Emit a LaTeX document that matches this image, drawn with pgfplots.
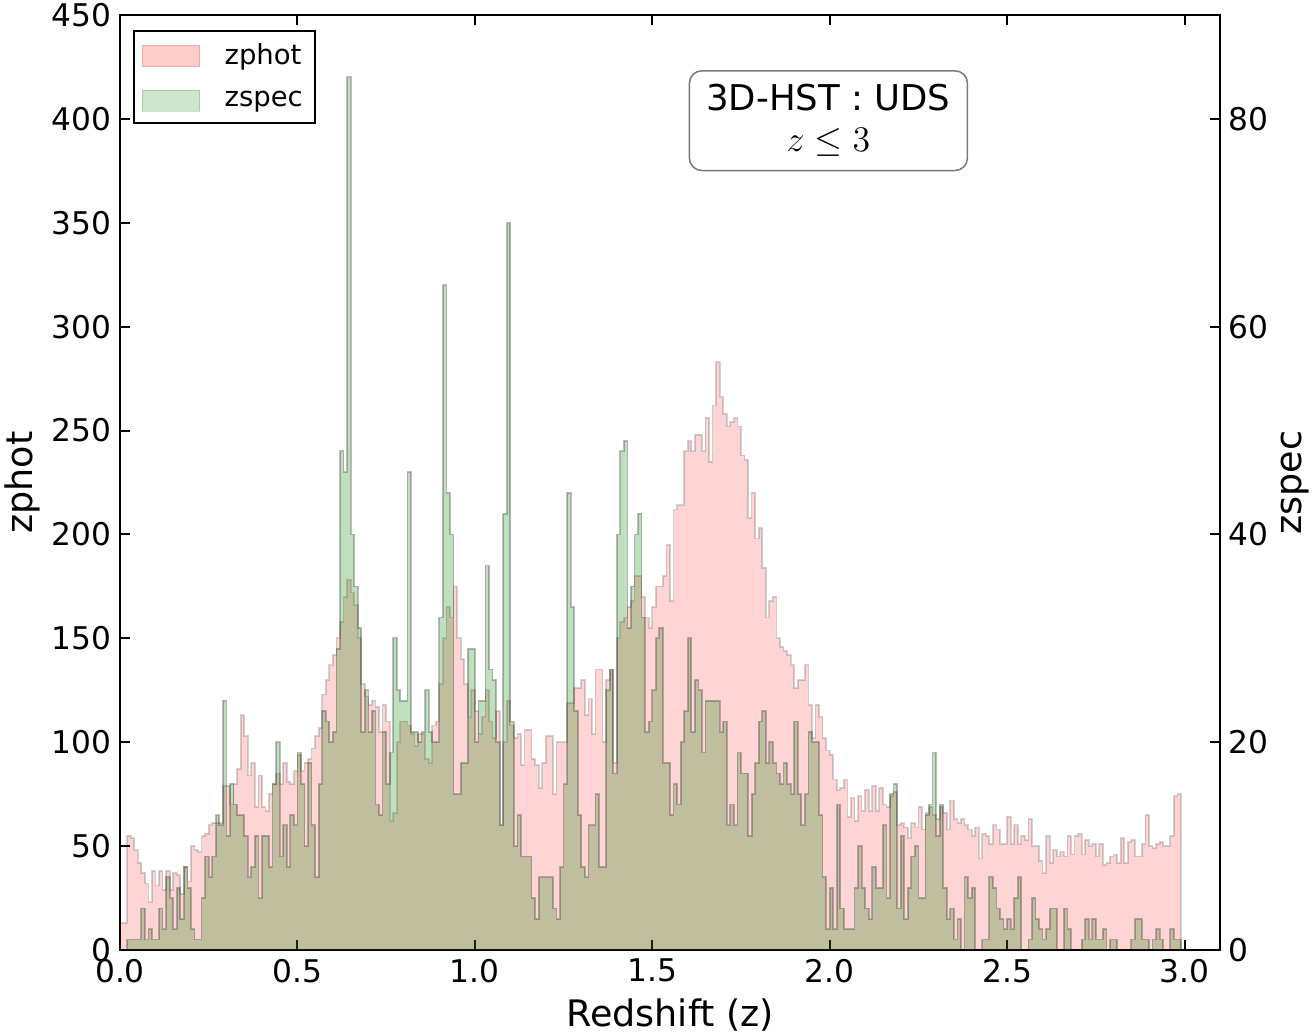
\documentclass[border=0pt]{standalone}
\usepackage{fontspec}
\setmainfont{DejaVu Sans}
\usepackage{pgfplots}
\usepackage{pgfplotstable}
\pgfplotsset{compat=1.18}

% photometric redshift counts, bins of width 0.01 starting at z=0 (last value repeated to close the step)
\pgfplotstableread[row sep=\\]{
c\\
13\\ 13\\ 55\\ 54\\ 48\\ 42\\ 37\\ 32\\ 23\\ 38\\
31\\ 38\\ 29\\ 38\\ 29\\ 37\\ 36\\ 27\\ 40\\ 33\\
50\\ 48\\ 47\\ 55\\ 56\\ 60\\ 61\\ 61\\ 61\\ 79\\
79\\ 70\\ 80\\ 87\\ 113\\ 103\\ 84\\ 90\\ 69\\ 84\\
69\\ 67\\ 75\\ 80\\ 85\\ 80\\ 90\\ 81\\ 80\\ 86\\
94\\ 86\\ 90\\ 92\\ 97\\ 103\\ 107\\ 123\\ 130\\ 137\\
142\\ 150\\ 158\\ 170\\ 178\\ 172\\ 166\\ 150\\ 128\\ 122\\
118\\ 120\\ 117\\ 105\\ 118\\ 110\\ 62\\ 66\\ 100\\ 110\\
110\\ 108\\ 104\\ 98\\ 104\\ 104\\ 92\\ 90\\ 108\\ 110\\
128\\ 150\\ 165\\ 160\\ 175\\ 150\\ 140\\ 128\\ 112\\ 125\\
115\\ 104\\ 112\\ 125\\ 110\\ 102\\ 115\\ 60\\ 100\\ 120\\
108\\ 102\\ 104\\ 89\\ 106\\ 106\\ 92\\ 89\\ 78\\ 90\\
103\\ 103\\ 75\\ 100\\ 100\\ 100\\ 119\\ 119\\ 126\\ 126\\
130\\ 113\\ 121\\ 104\\ 135\\ 135\\ 100\\ 130\\ 135\\ 90\\
150\\ 158\\ 160\\ 165\\ 168\\ 180\\ 180\\ 170\\ 160\\ 155\\
165\\ 175\\ 175\\ 180\\ 195\\ 168\\ 212\\ 214\\ 214\\ 240\\
245\\ 240\\ 248\\ 248\\ 240\\ 256\\ 235\\ 262\\ 283\\ 266\\
258\\ 252\\ 254\\ 256\\ 252\\ 238\\ 236\\ 208\\ 220\\ 198\\
203\\ 184\\ 160\\ 168\\ 170\\ 150\\ 146\\ 144\\ 142\\ 137\\
126\\ 130\\ 130\\ 137\\ 118\\ 102\\ 118\\ 112\\ 102\\ 96\\
94\\ 82\\ 77\\ 78\\ 82\\ 64\\ 73\\ 62\\ 74\\ 67\\
77\\ 67\\ 79\\ 67\\ 78\\ 70\\ 69\\ 74\\ 76\\ 60\\
61\\ 59\\ 54\\ 61\\ 59\\ 69\\ 58\\ 66\\ 69\\ 65\\
63\\ 69\\ 66\\ 58\\ 72\\ 63\\ 61\\ 63\\ 60\\ 58\\
55\\ 59\\ 44\\ 56\\ 55\\ 51\\ 60\\ 58\\ 51\\ 51\\
64\\ 51\\ 60\\ 51\\ 55\\ 53\\ 63\\ 50\\ 50\\ 43\\
37\\ 55\\ 42\\ 48\\ 45\\ 47\\ 45\\ 55\\ 46\\ 55\\
56\\ 46\\ 53\\ 50\\ 51\\ 45\\ 51\\ 41\\ 42\\ 45\\
46\\ 42\\ 54\\ 42\\ 52\\ 53\\ 45\\ 45\\ 51\\ 65\\
50\\ 49\\ 51\\ 52\\ 50\\ 50\\ 55\\ 74\\ 75\\ 75\\
}\zphot

% spectroscopic redshift counts, same binning
\pgfplotstableread[row sep=\\]{
c\\
0\\ 0\\ 1\\ 1\\ 1\\ 1\\ 4\\ 1\\ 2\\ 1\\
1\\ 4\\ 2\\ 7\\ 5\\ 2\\ 6\\ 3\\ 8\\ 6\\
2\\ 1\\ 1\\ 5\\ 9\\ 7\\ 9\\ 13\\ 12\\ 24\\
11\\ 16\\ 14\\ 13\\ 13\\ 11\\ 7\\ 8\\ 11\\ 5\\
11\\ 11\\ 8\\ 16\\ 20\\ 9\\ 12\\ 8\\ 13\\ 12\\
19\\ 16\\ 10\\ 18\\ 12\\ 7\\ 16\\ 23\\ 22\\ 20\\
21\\ 29\\ 48\\ 46\\ 84\\ 40\\ 35\\ 31\\ 21\\ 25\\
21\\ 23\\ 14\\ 13\\ 21\\ 16\\ 19\\ 30\\ 25\\ 24\\
24\\ 46\\ 21\\ 21\\ 20\\ 21\\ 25\\ 21\\ 20\\ 20\\
32\\ 64\\ 44\\ 40\\ 15\\ 15\\ 18\\ 18\\ 29\\ 29\\
20\\ 24\\ 24\\ 37\\ 27\\ 26\\ 20\\ 12\\ 42\\ 70\\
22\\ 10\\ 13\\ 9\\ 9\\ 9\\ 5\\ 3\\ 7\\ 7\\
7\\ 7\\ 4\\ 3\\ 8\\ 16\\ 44\\ 33\\ 23\\ 13\\
8\\ 7\\ 12\\ 12\\ 15\\ 8\\ 8\\ 25\\ 27\\ 17\\
40\\ 48\\ 49\\ 31\\ 35\\ 40\\ 42\\ 32\\ 21\\ 22\\
25\\ 30\\ 31\\ 18\\ 18\\ 13\\ 16\\ 14\\ 20\\ 23\\
30\\ 21\\ 26\\ 25\\ 19\\ 24\\ 24\\ 24\\ 24\\ 21\\
22\\ 12\\ 14\\ 12\\ 19\\ 17\\ 17\\ 11\\ 15\\ 18\\
22\\ 23\\ 18\\ 20\\ 18\\ 17\\ 16\\ 18\\ 16\\ 15\\
22\\ 15\\ 12\\ 15\\ 21\\ 20\\ 20\\ 13\\ 7\\ 2\\
6\\ 2\\ 14\\ 4\\ 2\\ 2\\ 2\\ 6\\ 10\\ 6\\
4\\ 3\\ 8\\ 6\\ 6\\ 12\\ 5\\ 15\\ 16\\ 4\\
11\\ 3\\ 6\\ 9\\ 10\\ 5\\ 5\\ 13\\ 14\\ 19\\
11\\ 14\\ 6\\ 3\\ 4\\ 1\\ 3\\ 0\\ 7\\ 5\\
6\\ 0\\ 0\\ 1\\ 1\\ 7\\ 6\\ 4\\ 3\\ 2\\
3\\ 2\\ 5\\ 7\\ 0\\ 0\\ 1\\ 5\\ 3\\ 2\\
1\\ 2\\ 4\\ 4\\ 0\\ 0\\ 4\\ 2\\ 0\\ 0\\
0\\ 1\\ 3\\ 1\\ 3\\ 1\\ 1\\ 2\\ 0\\ 1\\
1\\ 0\\ 0\\ 0\\ 0\\ 1\\ 3\\ 3\\ 1\\ 1\\
0\\ 1\\ 2\\ 1\\ 0\\ 0\\ 2\\ 1\\ 1\\ 1\\
}\zspec

\definecolor{mplgreen}{RGB}{0,128,0}
\definecolor{boxedge}{RGB}{120,120,120}

\pgfplotsset{
  histaxis/.style={
    scale only axis, width=440pt, height=374pt,
    xmin=0, xmax=3.1,
    tick align=inside,
    major tick length=4pt,
    axis line style={line width=0.9pt},
    every tick/.style={black, line width=0.8pt},
    /pgf/number format/assume math mode=true,
    tick label style={font=\fontsize{12.5}{14}\selectfont},
    label style={font=\fontsize{14.6}{17}\selectfont},
  },
}

\begin{document}
\begin{tikzpicture}
\begin{axis}[
  histaxis,
  ymin=0, ymax=450,
  xtick={0,0.5,1,1.5,2,2.5,3},
  ytick={0,50,100,150,200,250,300,350,400,450},
  xtick pos=both, ytick pos=left,
  xticklabel style={/pgf/number format/.cd, fixed, fixed zerofill, precision=1},
  xlabel={Redshift (z)}, ylabel={zphot},
  xlabel style={at={(axis description cs:0.5,-0.0695)}, anchor=center},
  ylabel style={at={(axis description cs:-0.089,0.5)}, anchor=center},
]
\coordinate (sw) at (rel axis cs:0,0);
\coordinate (ne) at (rel axis cs:1,1);
\addplot[const plot, fill=red, draw=black, opacity=0.17, line width=0.7pt]
  table[x expr=\coordindex*0.01, y=c]{\zphot} \closedcycle;
\end{axis}

\begin{axis}[
  histaxis,
  ymin=0, ymax=90,
  axis x line=none,
  axis y line*=right,
  ytick={0,20,40,60,80},
  ylabel={zspec},
  ylabel style={at={(axis description cs:1.068,0.5)}, anchor=center},
  legend cell align=left,
  legend image code/.code={%
    \draw[#1] (0pt,-4.3pt) rectangle (23pt,4.3pt);
    \path[draw=none, fill=none] (0pt,0pt) -- (31pt,0pt);},
  legend style={at={(axis description cs:0.012,0.984)}, anchor=north west,
    draw=black, line width=0.8pt, fill=white,
    font=\fontsize{11}{13}\selectfont,
    inner xsep=3pt, inner ysep=3pt, row sep=5.2pt},
]
\addlegendimage{fill=red, draw=red, opacity=0.2, line width=0.3pt}
\addlegendentry{zphot}
\addplot[const plot, fill=mplgreen, draw=black, opacity=0.25, line width=0.7pt,
  legend image post style={draw=mplgreen, line width=0.3pt, opacity=0.2}]
  table[x expr=\coordindex*0.01, y=c]{\zspec} \closedcycle;
\addlegendentry{zspec}
\node[draw=boxedge, rounded corners=5pt, fill=white, align=center,
  font=\fontsize{14.2}{16.4}\selectfont, inner xsep=6.8pt, inner ysep=5.5pt, line width=0.6pt]
  at (rel axis cs:0.644,0.887) {3D-HST : UDS\\$z\leq 3$};
\end{axis}

\pgfresetboundingbox
\path ([shift={(-48pt,-33.2pt)}]sw) rectangle ([shift={(37.6pt,6pt)}]ne);
\end{tikzpicture}
\end{document}
